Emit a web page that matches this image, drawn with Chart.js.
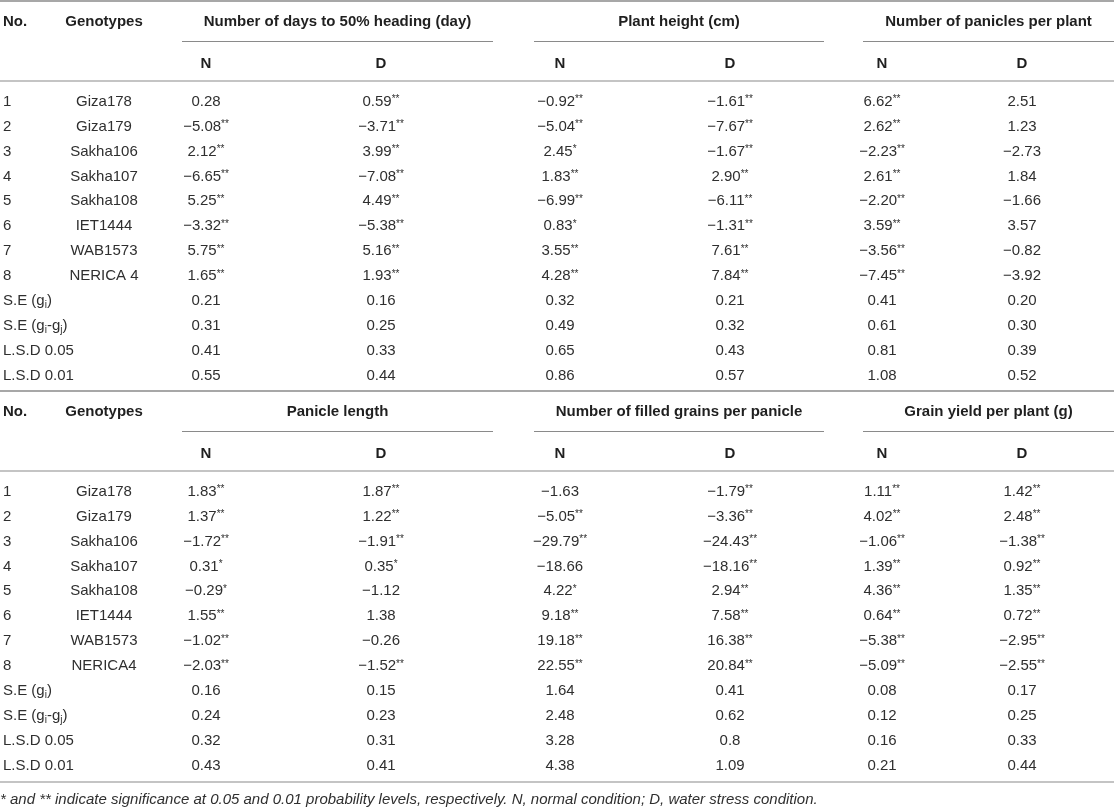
<!DOCTYPE html>
<html>
<head>
<meta charset="utf-8">
<script src="https://cdn.jsdelivr.net/npm/chart.js@4/dist/chart.umd.min.js"></script>
<style>
  html, body { margin: 0; padding: 0; background: #ffffff; }
  #wrap { width: 1114px; height: 808px; position: relative; }
</style>
</head>
<body>
<div id="wrap"><canvas id="c"></canvas></div>
<script>
// ---------------- DATA ----------------
const HEAD_LABELS = ["No.", "Genotypes"];
const CONDITIONS = ["N", "D"];
const ROW_NUMBERS = ["1", "2", "3", "4", "5", "6", "7", "8"];
const GENOTYPES_TOP = ["Giza178", "Giza179", "Sakha106", "Sakha107", "Sakha108", "IET1444", "WAB1573", "NERICA 4"];
const GENOTYPES_BOTTOM = ["Giza178", "Giza179", "Sakha106", "Sakha107", "Sakha108", "IET1444", "WAB1573", "NERICA4"];
const STAT_LABELS = ["S.E (g_i)", "S.E (g_i-g_j)", "L.S.D 0.05", "L.S.D 0.01"];

const TRAITS_TOP = ["Number of days to 50% heading (day)", "Plant height (cm)", "Number of panicles per plant"];
const TRAITS_BOTTOM = ["Panicle length", "Number of filled grains per panicle", "Grain yield per plant (g)"];

const HEADING_N = ["0.28", "−5.08**", "2.12**", "−6.65**", "5.25**", "−3.32**", "5.75**", "1.65**", "0.21", "0.31", "0.41", "0.55"];
const HEADING_D = ["0.59**", "−3.71**", "3.99**", "−7.08**", "4.49**", "−5.38**", "5.16**", "1.93**", "0.16", "0.25", "0.33", "0.44"];
const HEIGHT_N = ["−0.92**", "−5.04**", "2.45*", "1.83**", "−6.99**", "0.83*", "3.55**", "4.28**", "0.32", "0.49", "0.65", "0.86"];
const HEIGHT_D = ["−1.61**", "−7.67**", "−1.67**", "2.90**", "−6.11**", "−1.31**", "7.61**", "7.84**", "0.21", "0.32", "0.43", "0.57"];
const PANICLES_N = ["6.62**", "2.62**", "−2.23**", "2.61**", "−2.20**", "3.59**", "−3.56**", "−7.45**", "0.41", "0.61", "0.81", "1.08"];
const PANICLES_D = ["2.51", "1.23", "−2.73", "1.84", "−1.66", "3.57", "−0.82", "−3.92", "0.20", "0.30", "0.39", "0.52"];

const LENGTH_N = ["1.83**", "1.37**", "−1.72**", "0.31*", "−0.29*", "1.55**", "−1.02**", "−2.03**", "0.16", "0.24", "0.32", "0.43"];
const LENGTH_D = ["1.87**", "1.22**", "−1.91**", "0.35*", "−1.12", "1.38", "−0.26", "−1.52**", "0.15", "0.23", "0.31", "0.41"];
const GRAINS_N = ["−1.63", "−5.05**", "−29.79**", "−18.66", "4.22*", "9.18**", "19.18**", "22.55**", "1.64", "2.48", "3.28", "4.38"];
const GRAINS_D = ["−1.79**", "−3.36**", "−24.43**", "−18.16**", "2.94**", "7.58**", "16.38**", "20.84**", "0.41", "0.62", "0.8", "1.09"];
const YIELD_N = ["1.11**", "4.02**", "−1.06**", "1.39**", "4.36**", "0.64**", "−5.38**", "−5.09**", "0.08", "0.12", "0.16", "0.21"];
const YIELD_D = ["1.42**", "2.48**", "−1.38**", "0.92**", "1.35**", "0.72**", "−2.95**", "−2.55**", "0.17", "0.25", "0.33", "0.44"];

const FOOTNOTE = "* and ** indicate significance at 0.05 and 0.01 probability levels, respectively. N, normal condition; D, water stress condition.";

// ---------------- LAYOUT (positions / styles) ----------------
const LAYOUT = {
  width: 1114, height: 808,
  colNo: 3, colGeno: 104,
  valueCols: [206, 381, 560, 730, 882, 1022],
  spans: [[182, 493], [534, 824], [863, 1114]],
  blockTops: [0, 390],
  ruleTop: 1, titleY: 20.5, underlineY: 41.5, condY: 63, headRule: 81,
  firstRow: 100.5, rowStep: 24.9,
  bottomRule: 782, footY: 798.5
};
const STYLE = {
  family: '"Liberation Sans", Arial, Helvetica, sans-serif',
  size: 15, smallSize: 10, subSize: 10,
  text: '#2f2f2f', head: '#1f1f1f', rule: '#8a8a8a'
};

// ---------------- build datasets ----------------
const blocks = [
  { traits: TRAITS_TOP, genotypes: GENOTYPES_TOP, series: [HEADING_N, HEADING_D, HEIGHT_N, HEIGHT_D, PANICLES_N, PANICLES_D] },
  { traits: TRAITS_BOTTOM, genotypes: GENOTYPES_BOTTOM, series: [LENGTH_N, LENGTH_D, GRAINS_N, GRAINS_D, YIELD_N, YIELD_D] }
];

const datasets = [];
blocks.forEach((blk, b) => {
  const top = LAYOUT.blockTops[b];
  const rowY = i => top + LAYOUT.firstRow + i * LAYOUT.rowStep;
  const firstCol = ROW_NUMBERS.concat(STAT_LABELS);
  datasets.push({
    label: 'No. ' + (b + 1), cellTexts: firstCol, cellAlign: 'left',
    data: firstCol.map((_, i) => ({ x: LAYOUT.colNo, y: rowY(i) }))
  });
  datasets.push({
    label: 'Genotypes ' + (b + 1), cellTexts: blk.genotypes, cellAlign: 'center',
    data: blk.genotypes.map((_, i) => ({ x: LAYOUT.colGeno, y: rowY(i) }))
  });
  blk.series.forEach((vals, k) => {
    datasets.push({
      label: blk.traits[Math.floor(k / 2)] + ' ' + CONDITIONS[k % 2], cellTexts: vals, cellAlign: 'center',
      data: vals.map((_, i) => ({ x: LAYOUT.valueCols[k], y: rowY(i) }))
    });
  });
});

// ---------------- text helpers ----------------
function font(size, weight, italic) {
  return (italic ? 'italic ' : '') + (weight || 'normal') + ' ' + size + 'px ' + STYLE.family;
}
function parseRich(str) {
  const out = []; let buf = ''; let i = 0;
  const flush = () => { if (buf) { out.push({ t: buf, k: 'n' }); buf = ''; } };
  while (i < str.length) {
    const ch = str[i];
    if (ch === '_') { flush(); out.push({ t: str[i + 1], k: 'sub' }); i += 2; continue; }
    if (ch === '*') { flush(); let j = i; while (str[j] === '*') j++; out.push({ t: str.slice(i, j), k: 'sup' }); i = j; continue; }
    buf += ch; i++;
  }
  flush();
  return out;
}
function drawRich(ctx, str, x, cy, align, weight, color, rich) {
  const segs = rich ? parseRich(str) : [{ t: str, k: 'n' }];
  const fontFor = s => s.k === 'n' ? font(STYLE.size, weight) : font(s.k === 'sup' ? STYLE.smallSize : STYLE.subSize, weight);
  let total = 0;
  segs.forEach(s => { ctx.font = fontFor(s); s.w = ctx.measureText(s.t).width; total += s.w; });
  let cx = align === 'center' ? x - total / 2 : (align === 'right' ? x - total : x);
  const base = cy + 5.3;
  ctx.fillStyle = color;
  ctx.textAlign = 'left';
  ctx.textBaseline = 'alphabetic';
  segs.forEach(s => {
    ctx.font = fontFor(s);
    let y = base;
    if (s.k === 'sup') y = base - 3.5;
    if (s.k === 'sub') y = base + 3;
    ctx.fillText(s.t, cx, y);
    cx += s.w;
  });
}

// ---------------- plugin ----------------
const tablePlugin = {
  id: 'tableCells',
  beforeDatasetsDraw(chart) {
    const { ctx, scales: { x, y } } = chart;
    const px = v => x.getPixelForValue(v), py = v => y.getPixelForValue(v);
    ctx.save();
    ctx.strokeStyle = STYLE.rule;
    const hline = (x1, x2, yy, w) => {
      ctx.lineWidth = w; ctx.beginPath();
      ctx.moveTo(px(x1), py(yy)); ctx.lineTo(px(x2), py(yy)); ctx.stroke();
    };
    LAYOUT.blockTops.forEach(top => {
      hline(0, LAYOUT.width, top + LAYOUT.ruleTop, 1.5);
      LAYOUT.spans.forEach(sp => hline(sp[0], sp[1], top + LAYOUT.underlineY, 1.2));
      hline(0, LAYOUT.width, top + LAYOUT.headRule, 1.2);
    });
    hline(0, LAYOUT.width, LAYOUT.bottomRule, 1.2);
    ctx.restore();
  },
  afterDatasetsDraw(chart) {
    const { ctx, scales: { x, y } } = chart;
    const px = v => x.getPixelForValue(v), py = v => y.getPixelForValue(v);
    ctx.save();
    chart.data.datasets.forEach((ds, di) => {
      const meta = chart.getDatasetMeta(di);
      meta.data.forEach((el, j) => {
        drawRich(ctx, ds.cellTexts[j], el.x, el.y, ds.cellAlign, 'normal', STYLE.text, true);
      });
    });
    blocks.forEach((blk, b) => {
      const top = LAYOUT.blockTops[b];
      drawRich(ctx, HEAD_LABELS[0], px(LAYOUT.colNo), py(top + LAYOUT.titleY), 'left', 'bold', STYLE.head, false);
      drawRich(ctx, HEAD_LABELS[1], px(LAYOUT.colGeno), py(top + LAYOUT.titleY), 'center', 'bold', STYLE.head, false);
      blk.traits.forEach((t, k) => {
        const sp = LAYOUT.spans[k];
        drawRich(ctx, t, px((sp[0] + sp[1]) / 2), py(top + LAYOUT.titleY), 'center', 'bold', STYLE.head, false);
      });
      LAYOUT.valueCols.forEach((cx, k) => {
        drawRich(ctx, CONDITIONS[k % 2], px(cx), py(top + LAYOUT.condY), 'center', 'bold', STYLE.head, false);
      });
    });
    ctx.font = font(STYLE.size, 'normal', true);
    ctx.fillStyle = STYLE.text;
    ctx.textAlign = 'left';
    ctx.textBaseline = 'alphabetic';
    ctx.fillText(FOOTNOTE, px(0), py(LAYOUT.footY) + 5.3);
    ctx.restore();
  }
};

// ---------------- chart ----------------
new Chart(document.getElementById('c'), {
  type: 'scatter',
  data: { datasets },
  options: {
    responsive: true,
    maintainAspectRatio: false,
    animation: false,
    layout: { padding: 0 },
    elements: { point: { radius: 0, hoverRadius: 0, hitRadius: 0 } },
    plugins: { legend: { display: false }, tooltip: { enabled: false } },
    events: [],
    scales: {
      x: { type: 'linear', min: 0, max: LAYOUT.width, display: false },
      y: { type: 'linear', min: 0, max: LAYOUT.height, reverse: true, display: false }
    }
  },
  plugins: [tablePlugin]
});
</script>
</body>
</html>
